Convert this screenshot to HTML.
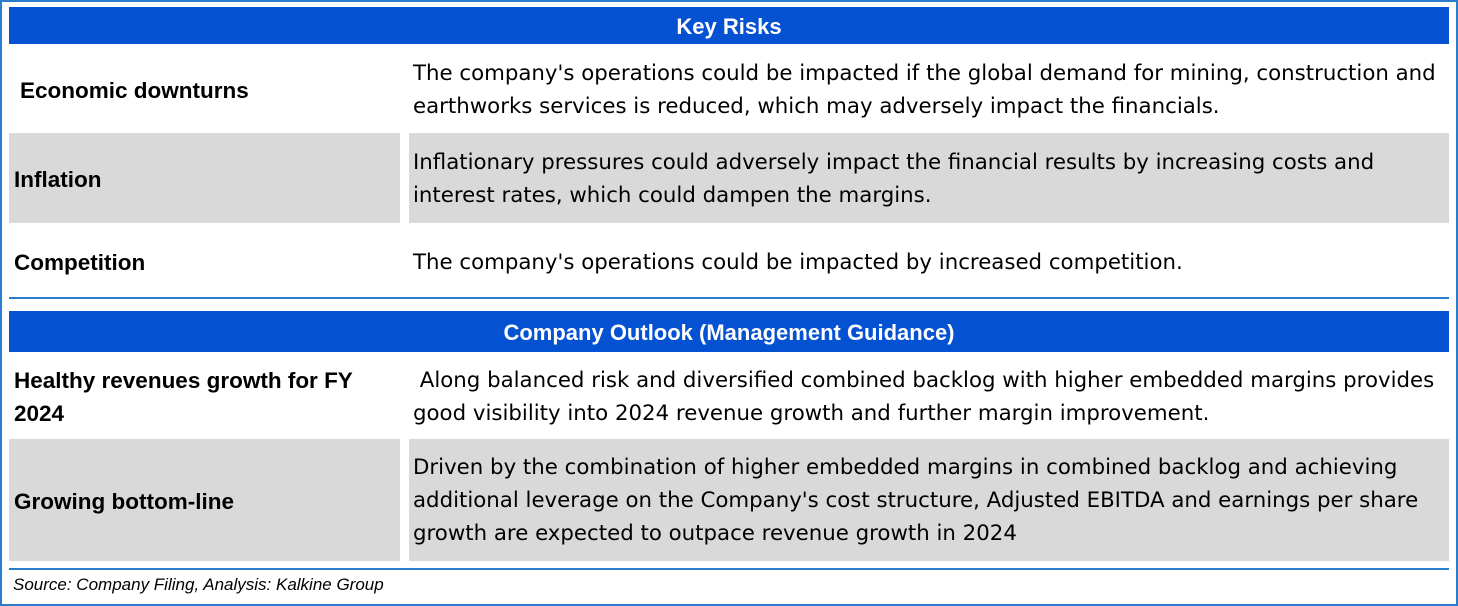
<!DOCTYPE html>
<html><head><meta charset="utf-8"><style>
body{margin:0;width:1458px;height:606px;background:#fff;position:relative;overflow:hidden;font-family:"Liberation Sans",sans-serif;color:#000}
div{position:absolute;box-sizing:border-box}
.frame{left:0;top:0;width:1458px;height:606px;border:2px solid #2a7ccc}
.hdr{left:9px;width:1440px;background:#0451d1;color:#fff;font-weight:bold;font-size:22px;text-align:center}
.gray{background:#d9d9d9}
.lab{font-weight:bold;font-size:22.5px;left:14px;white-space:nowrap;line-height:33px}
.txt{font-family:"DejaVu Sans",sans-serif;font-size:21.3px;left:413px;white-space:nowrap;line-height:33px;letter-spacing:0}
.line{left:9px;width:1440px;background:#2a7ccc}
</style></head><body>
<div class="frame"></div>
<div class="hdr" style="top:7px;height:37px;line-height:39px">Key Risks</div>
<div class="lab" style="top:74px;left:20px">Economic downturns</div>
<div class="txt" style="top:57px">The company's operations could be impacted if the global demand for mining, construction and<br>earthworks services is reduced, which may adversely impact the financials.</div>
<div class="gray" style="left:9px;top:133px;width:391px;height:90px"></div>
<div class="gray" style="left:409px;top:133px;width:1040px;height:90px"></div>
<div class="lab" style="top:163px">Inflation</div>
<div class="txt" style="top:146px">Inflationary pressures could adversely impact the financial results by increasing costs and<br>interest rates, which could dampen the margins.</div>
<div class="lab" style="top:246px">Competition</div>
<div class="txt" style="top:246px">The company's operations could be impacted by increased competition.</div>
<div class="line" style="top:297px;height:2px"></div>
<div class="hdr" style="top:311px;height:41px;line-height:43px">Company Outlook (Management Guidance)</div>
<div class="lab" style="top:364px">Healthy revenues growth for FY<br>2024</div>
<div class="txt" style="top:364px">&nbsp;Along balanced risk and diversified combined backlog with higher embedded margins provides<br>good visibility into 2024 revenue growth and further margin improvement.</div>
<div class="gray" style="left:9px;top:439px;width:391px;height:122px"></div>
<div class="gray" style="left:409px;top:439px;width:1040px;height:122px"></div>
<div class="lab" style="top:485px">Growing bottom-line</div>
<div class="txt" style="top:451px">Driven by the combination of higher embedded margins in combined backlog and achieving<br>additional leverage on the Company's cost structure, Adjusted EBITDA and earnings per share<br>growth are expected to outpace revenue growth in 2024</div>
<div class="line" style="top:568px;height:2px"></div>
<div style="left:13px;top:575px;font-size:17px;font-style:italic;white-space:nowrap">Source: Company Filing, Analysis: Kalkine Group</div>
</body></html>
